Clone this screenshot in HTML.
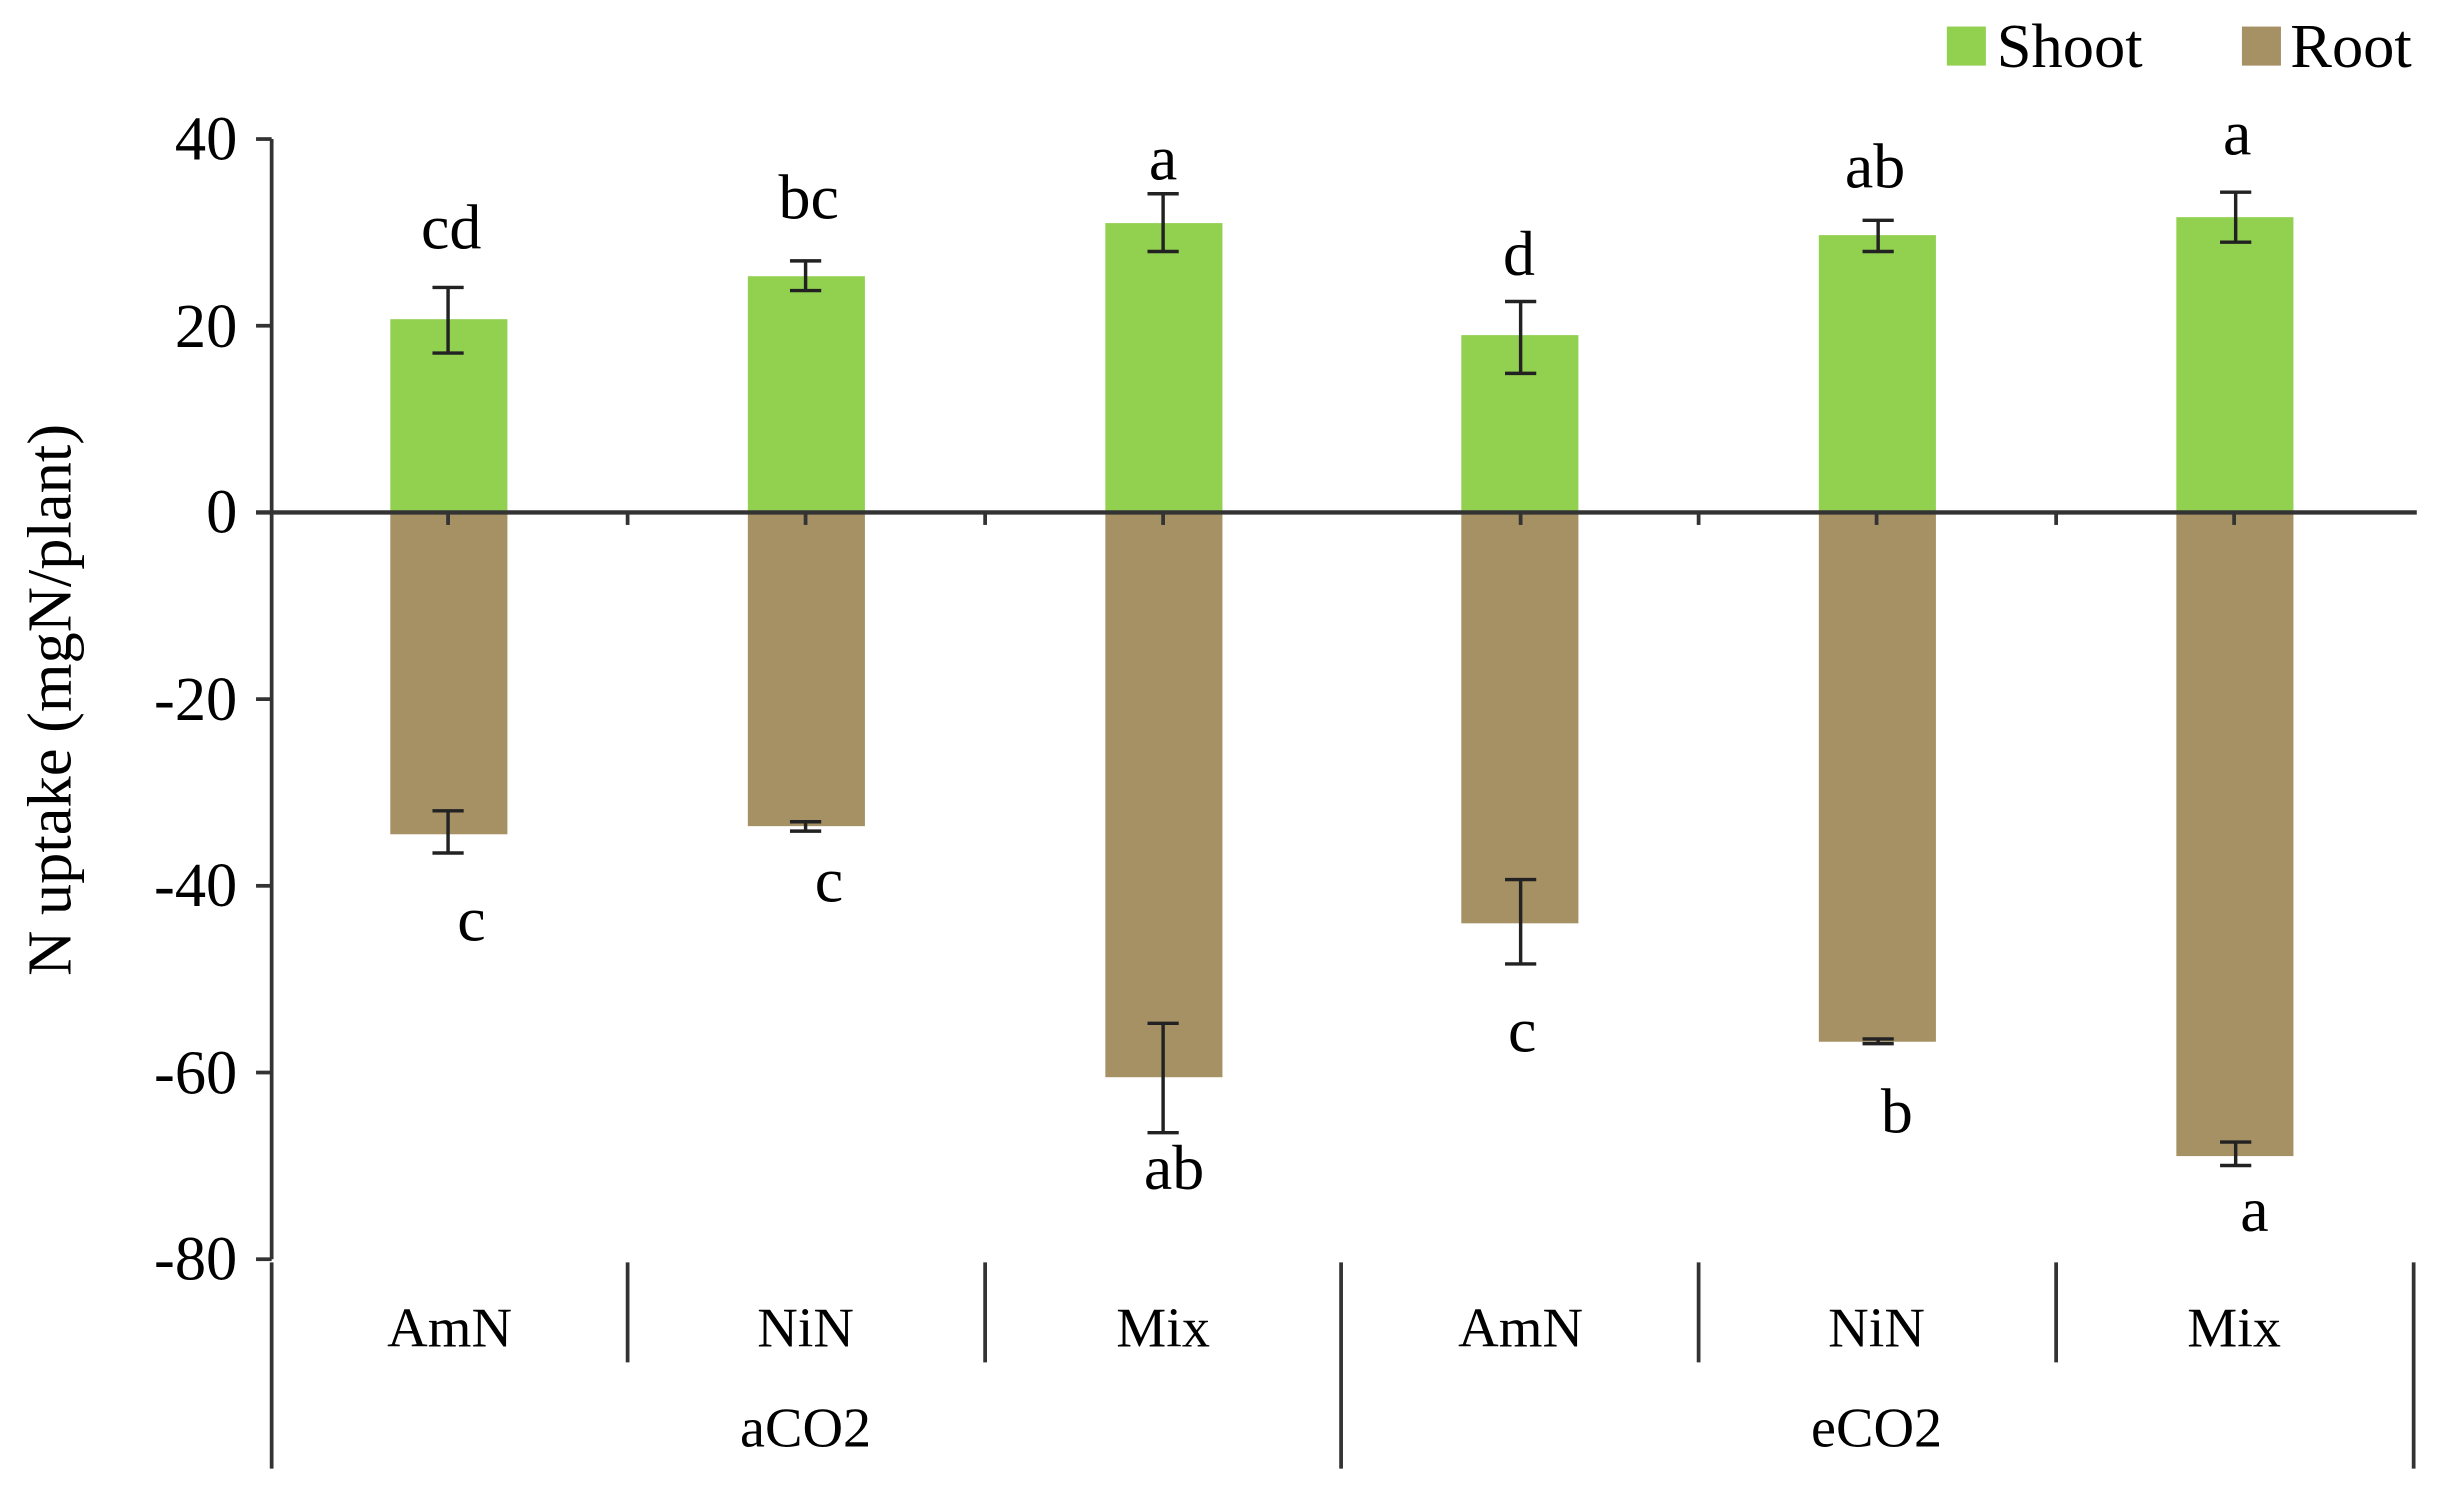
<!DOCTYPE html>
<html><head><meta charset="utf-8"><style>
html,body{margin:0;padding:0;background:#fff;}
svg{display:block;}
text{font-family:"Liberation Serif",serif;fill:#000;}
</style></head><body>
<svg width="2448" height="1492" viewBox="0 0 1568 955" preserveAspectRatio="none">
<!-- legend -->
<rect x="1247" y="17" width="25" height="25" fill="#92d050"/>
<text x="1279" y="43" font-size="40">Shoot</text>
<rect x="1436" y="17" width="25" height="25" fill="#a69165"/>
<text x="1467" y="43" font-size="40">Root</text>
<!-- y axis title -->
<text transform="translate(45,448) rotate(-90)" text-anchor="middle" font-size="40">N uptake (mgN/plant)</text>
<!-- bars -->
<g fill="#92d050">
<rect x="250" y="204.3" width="75" height="123.7"/>
<rect x="479" y="176.8" width="75" height="151.2"/>
<rect x="708" y="142.8" width="75" height="185.2"/>
<rect x="936" y="214.5" width="75" height="113.5"/>
<rect x="1165" y="150.5" width="75" height="177.5"/>
<rect x="1394" y="139" width="75" height="189"/>
</g>
<g fill="#a69165">
<rect x="250" y="328" width="75" height="206"/>
<rect x="479" y="328" width="75" height="200.8"/>
<rect x="708" y="328" width="75" height="361.5"/>
<rect x="936" y="328" width="75" height="263"/>
<rect x="1165" y="328" width="75" height="338.8"/>
<rect x="1394" y="328" width="75" height="412"/>
</g>
<!-- axes -->
<g stroke="#333" stroke-width="2.4" fill="none">
<line x1="174" y1="89" x2="174" y2="806"/>
<line x1="164" y1="89" x2="174" y2="89"/>
<line x1="164" y1="208.5" x2="174" y2="208.5"/>
<line x1="164" y1="328" x2="174" y2="328"/>
<line x1="164" y1="447.5" x2="174" y2="447.5"/>
<line x1="164" y1="567" x2="174" y2="567"/>
<line x1="164" y1="686.5" x2="174" y2="686.5"/>
<line x1="164" y1="806" x2="174" y2="806"/>
<line x1="164" y1="328" x2="1548" y2="328" stroke-width="2.8"/>
<line x1="287" y1="328" x2="287" y2="336"/><line x1="402" y1="328" x2="402" y2="336"/>
<line x1="516" y1="328" x2="516" y2="336"/><line x1="631" y1="328" x2="631" y2="336"/>
<line x1="745" y1="328" x2="745" y2="336"/><line x1="974" y1="328" x2="974" y2="336"/>
<line x1="1088" y1="328" x2="1088" y2="336"/><line x1="1202" y1="328" x2="1202" y2="336"/>
<line x1="1317" y1="328" x2="1317" y2="336"/><line x1="1431" y1="328" x2="1431" y2="336"/>
<line x1="174" y1="808" x2="174" y2="940"/>
<line x1="859" y1="808" x2="859" y2="940"/>
<line x1="1546" y1="808" x2="1546" y2="940"/>
<line x1="402" y1="808" x2="402" y2="872"/>
<line x1="631" y1="808" x2="631" y2="872"/>
<line x1="1088" y1="808" x2="1088" y2="872"/>
<line x1="1317" y1="808" x2="1317" y2="872"/>
</g>
<!-- error bars -->
<g stroke="#222" stroke-width="2.2" fill="none">
<path d="M287 184V226M277 184H297M277 226H297"/>
<path d="M516 167V186M506 167H526M506 186H526"/>
<path d="M745 124V161M735 124H755M735 161H755"/>
<path d="M974 193V239M964 193H984M964 239H984"/>
<path d="M1203 141V161M1193 141H1213M1193 161H1213"/>
<path d="M1432 123V155M1422 123H1442M1422 155H1442"/>
<path d="M287 519V546M277 519H297M277 546H297"/>
<path d="M516 526V532M506 526H526M506 532H526"/>
<path d="M745 655V725M735 655H755M735 725H755"/>
<path d="M974 563V617M964 563H984M964 617H984"/>
<path d="M1203 665V668M1193 665H1213M1193 668H1213"/>
<path d="M1432 731V746M1422 731H1442M1422 746H1442"/>
</g>
<!-- tick labels -->
<g font-size="40" text-anchor="end">
<text x="152" y="102">40</text>
<text x="152" y="222">20</text>
<text x="152" y="341">0</text>
<text x="152" y="461">-20</text>
<text x="152" y="580">-40</text>
<text x="152" y="700">-60</text>
<text x="152" y="819">-80</text>
</g>
<g font-size="36" text-anchor="middle">
<text x="288" y="862">AmN</text><text x="516" y="862">NiN</text><text x="745" y="862">Mix</text>
<text x="974" y="862">AmN</text><text x="1202" y="862">NiN</text><text x="1431" y="862">Mix</text>
<text x="516" y="926">aCO2</text><text x="1202" y="926">eCO2</text>
</g>
<!-- letters -->
<g font-size="41" text-anchor="middle">
<text x="289" y="159">cd</text><text x="518" y="140">bc</text><text x="745" y="115">a</text>
<text x="973" y="176">d</text><text x="1201" y="120">ab</text><text x="1433" y="99">a</text>
<text x="302" y="602">c</text><text x="531" y="577">c</text><text x="752" y="761">ab</text>
<text x="975" y="673">c</text><text x="1215" y="725">b</text><text x="1444" y="788">a</text>
</g>
</svg>
</body></html>
